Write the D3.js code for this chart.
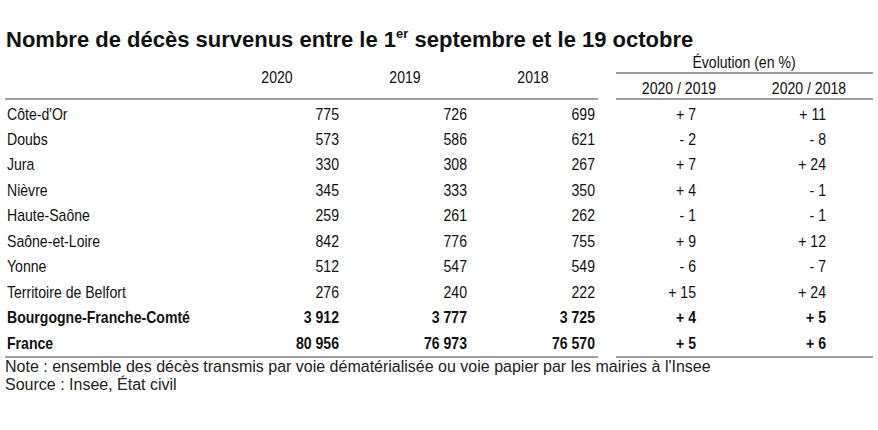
<!DOCTYPE html>
<html>
<head>
<meta charset="utf-8">
<script src="https://cdn.jsdelivr.net/npm/d3@7"></script>
<style>
  body { margin: 0; background: #fff; }
  svg { display: block; }
  .narrow { font-family: "Liberation Sans Narrow", "Liberation Sans", Arial, sans-serif; }
  .wide { font-family: "Liberation Sans", Arial, sans-serif; }
</style>
</head>
<body>
<div id="chart"></div>
<script>
// table content
const regions = ["Côte-d'Or", 'Doubs', 'Jura', 'Nièvre', 'Haute-Saône', 'Saône-et-Loire', 'Yonne', 'Territoire de Belfort', 'Bourgogne-Franche-Comté', 'France']
const boldRows = ['Bourgogne-Franche-Comté', 'France']
const years = ['2020', '2019', '2018']
const deaths2020 = [775, 573, 330, 345, 259, 842, 512, 276, 3912, 80956]
const deaths2019 = [726, 586, 308, 333, 261, 776, 547, 240, 3777, 76973]
const deaths2018 = [699, 621, 267, 350, 262, 755, 549, 222, 3725, 76570]
const evoCols = ['2020 / 2019', '2020 / 2018']
const evo2019 = [7, -2, 7, 4, -1, 9, -6, 15, 4, 5]
const evo2018 = [11, -8, 24, -1, -1, 12, -7, 24, 5, 6]

const title = 'Nombre de décès survenus entre le 1'
const titleSup = 'er'
const titleEnd = ' septembre et le 19 octobre'
const evoTitle = 'Évolution (en %)'
const note = "Note : ensemble des décès transmis par voie dématérialisée ou voie papier par les mairies à l'Insee"
const source = 'Source : Insee, État civil'

const width = 878
const height = 430
const lineColor = '#7d7d7d'
const squeeze = 0.88 // the table uses a condensed face, no narrow font installed

const fr = d3.formatLocale({ decimal: ',', thousands: ' ', grouping: [3], currency: ['', ' €'] })
const fmtNum = fr.format(',d')
const fmtEvo = (v) => (v < 0 ? '- ' : '+ ') + Math.abs(v)
const at = (x, yy) => 'translate(' + x + ',' + yy + ') scale(' + squeeze + ',1)'

const svg = d3.select('#chart').append('svg')
  .attr('width', width)
  .attr('height', height)

// title
const t = svg.append('text')
  .attr('class', 'wide')
  .attr('x', 6)
  .attr('y', 47)
  .attr('font-size', 22)
  .attr('font-weight', 'bold')
  .attr('fill', '#111')
t.append('tspan').text(title)
t.append('tspan').attr('font-size', 13).attr('dy', -9).text(titleSup)
t.append('tspan').attr('dy', 9).text(titleEnd)

// scales
const y = d3.scaleBand()
  .domain(regions)
  .range([101, 355.5])

const xYear = d3.scaleBand()
  .domain(years)
  .range([213, 597])

const xEvo = d3.scaleBand()
  .domain(evoCols)
  .range([614, 874])

const valuesByYear = { 2020: deaths2020, 2019: deaths2019, 2018: deaths2018 }
const evoByCol = { '2020 / 2019': evo2019, '2020 / 2018': evo2018 }

// rules
const rule = (x1, x2, yy) => svg.append('line')
  .attr('x1', x1).attr('x2', x2)
  .attr('y1', yy).attr('y2', yy)
  .attr('stroke', lineColor)
  .attr('stroke-width', 1.5)

rule(5, xYear.range()[1] + 1, 99)
rule(xEvo.range()[0] + 2, xEvo.range()[1] - 1, 99)
rule(xEvo.range()[0] + 2, xEvo.range()[1] - 1, 73)
rule(5, xYear.range()[1] + 1, 357)
rule(xEvo.range()[0] + 2, xEvo.range()[1] - 1, 357)

// headers
svg.selectAll('.year-head')
  .data(years)
  .enter().append('text')
  .attr('class', 'narrow year-head')
  .attr('transform', d => at(xYear(d) + xYear.bandwidth() / 2, 83))
  .attr('text-anchor', 'middle')
  .attr('font-size', 16)
  .attr('fill', '#111')
  .text(d => d)

svg.append('text')
  .attr('class', 'narrow')
  .attr('transform', at((xEvo.range()[0] + xEvo.range()[1]) / 2, 68))
  .attr('text-anchor', 'middle')
  .attr('font-size', 16)
  .attr('fill', '#111')
  .text(evoTitle)

svg.selectAll('.evo-head')
  .data(evoCols)
  .enter().append('text')
  .attr('class', 'narrow evo-head')
  .attr('transform', d => at(xEvo(d) + xEvo.bandwidth() / 2, 94))
  .attr('text-anchor', 'middle')
  .attr('font-size', 16)
  .attr('fill', '#111')
  .text(d => d)

// rows
const rows = svg.selectAll('.row')
  .data(regions)
  .enter().append('g')
  .attr('class', 'row narrow')
  .attr('transform', d => 'translate(0,' + (y(d) + 18.5) + ')')
  .attr('font-size', 16)
  .attr('fill', '#111')
  .attr('font-weight', d => boldRows.includes(d) ? 'bold' : 'normal')

rows.append('text')
  .attr('transform', at(7, 0))
  .text(d => d)

years.forEach((yr) => {
  rows.append('text')
    .attr('transform', at(xYear(yr) + xYear.bandwidth() - 2, 0))
    .attr('text-anchor', 'end')
    .text((d, i) => fmtNum(valuesByYear[yr][i]))
})

evoCols.forEach((col) => {
  rows.append('text')
    .attr('transform', at(xEvo(col) + xEvo.bandwidth() / 2 + 17, 0))
    .attr('text-anchor', 'end')
    .text((d, i) => fmtEvo(evoByCol[col][i]))
})

// note and source
svg.append('text')
  .attr('class', 'wide')
  .attr('x', 5)
  .attr('y', 372)
  .attr('font-size', 16)
  .attr('fill', '#222')
  .text(note)

svg.append('text')
  .attr('class', 'wide')
  .attr('x', 5)
  .attr('y', 390)
  .attr('font-size', 16)
  .attr('fill', '#222')
  .text(source)
</script>
</body>
</html>
